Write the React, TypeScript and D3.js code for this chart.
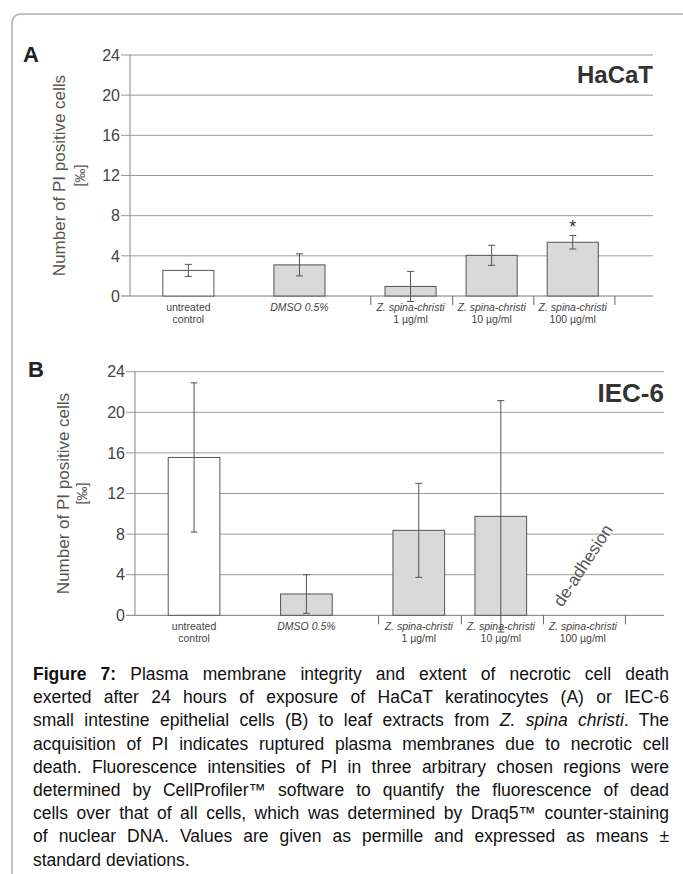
import React, { useLayoutEffect, useRef } from "react";
import * as d3 from "d3";

// ---------- data ----------
const categories = [
  "untreated control",
  "DMSO 0.5%",
  "Z. spina-christi 1 µg/ml",
  "Z. spina-christi 10 µg/ml",
  "Z. spina-christi 100 µg/ml",
];
const labelTop = ["untreated", "DMSO 0.5%", "Z. spina-christi", "Z. spina-christi", "Z. spina-christi"];
const labelBottom = ["control", "", "1 µg/ml", "10 µg/ml", "100 µg/ml"];
const labelItalic = [false, true, true, true, true];
const yTicks = [0, 4, 8, 12, 16, 20, 24];

const hacatMean = [2.55, 3.1, 0.95, 4.05, 5.35];
const hacatSD = [0.6, 1.1, 1.5, 1.0, 0.67];
const hacatMarks = ["", "", "", "", "*"];
const hacatNotes = ["", "", "", "", ""];

const iecMean: (number | null)[] = [15.55, 2.1, 8.37, 9.75, null];
const iecSD: (number | null)[] = [7.35, 1.9, 4.63, 11.4, null];
const iecMarks = ["", "", "", "", ""];
const iecNotes = ["", "", "", "", "de-adhesion"];

type Seg = { t: string; b?: boolean; i?: boolean };
const captionLines: Seg[][] = [
  [{ t: "Figure 7:", b: true }, { t: " Plasma membrane integrity and extent of necrotic cell death" }],
  [{ t: "exerted after 24 hours of exposure of HaCaT keratinocytes (A) or IEC-6" }],
  [{ t: "small intestine epithelial cells (B) to leaf extracts from " }, { t: "Z. spina christi", i: true }, { t: ". The" }],
  [{ t: "acquisition of PI indicates ruptured plasma membranes due to necrotic cell" }],
  [{ t: "death. Fluorescence intensities of PI in three arbitrary chosen regions were" }],
  [{ t: "determined by CellProfiler™ software to quantify the fluorescence of dead" }],
  [{ t: "cells over that of all cells, which was determined by Draq5™ counter-staining" }],
  [{ t: "of nuclear DNA. Values are given as permille and expressed as means ±" }],
  [{ t: "standard deviations." }],
];

// ---------- layout ----------
const W = 683;
const H = 874;
const FONT = "'Liberation Sans', Arial, Helvetica, sans-serif";
const SLOT_DOMAIN = [0, 6.45];
const SLOT_CENTERS = [0.72, 2.09, 3.46, 4.46, 5.46];
const SEPARATORS = [2.97, 3.98, 4.98, 5.98];
const BAR_W = 0.63;

type PanelProps = {
  letter: string;
  letterX: number;
  letterY: number;
  cell: string;
  cellY: number;
  cellSize: number;
  x0: number;
  x1: number;
  y0: number;
  y1: number;
  titleX: number;
  unitX: number;
  means: (number | null)[];
  sds: (number | null)[];
  marks: string[];
  notes: string[];
};

function Panel(p: PanelProps) {
  const x = d3.scaleLinear().domain(SLOT_DOMAIN).range([p.x0, p.x1]);
  const y = d3.scaleLinear().domain([0, 24]).range([p.y0, p.y1]);
  const bw = x(BAR_W) - x(0);
  const midY = (p.y0 + p.y1) / 2;
  return (
    <g fontFamily={FONT}>
      <text x={p.letterX} y={p.letterY} fontSize={22} fontWeight="bold" fill="#222">
        {p.letter}
      </text>
      {yTicks.map((t) => (
        <g key={t}>
          <line x1={p.x0 - 9} x2={p.x1} y1={y(t)} y2={y(t)} stroke={t === 0 ? "#777" : "#9a9a9a"} strokeWidth={1} />
          <text x={p.x0 - 10} y={y(t)} dy="0.36em" textAnchor="end" fontSize={16} fill="#444">
            {t}
          </text>
        </g>
      ))}
      <line x1={p.x0} x2={p.x0} y1={p.y0} y2={y(24)} stroke="#888" strokeWidth={1} />
      {SEPARATORS.map((s, i) => (
        <line key={i} x1={x(s)} x2={x(s)} y1={p.y0} y2={p.y0 + 9} stroke="#666" strokeWidth={1} />
      ))}
      <text
        transform={`translate(${p.titleX},${midY}) rotate(-90)`}
        textAnchor="middle"
        fontSize={17}
        fill="#555"
      >
        Number of PI positive cells
      </text>
      <text transform={`translate(${p.unitX},${midY}) rotate(-90)`} textAnchor="middle" fontSize={14} fill="#555">
        [‰]
      </text>
      <text x={p.x1} y={p.cellY} textAnchor="end" fontSize={p.cellSize} fontWeight="bold" fill="#333">
        {p.cell}
      </text>
      {categories.map((c, i) => {
        const m = p.means[i];
        const cx = x(SLOT_CENTERS[i]);
        const sd = p.sds[i];
        return (
          <g key={c}>
            {m !== null && (
              <rect
                x={cx - bw / 2}
                y={y(m)}
                width={bw}
                height={y(0) - y(m)}
                fill={i === 0 ? "#fff" : "#d9d9d9"}
                stroke="#555"
                strokeWidth={1}
              />
            )}
            {m !== null && sd !== null && (
              <g stroke="#555" strokeWidth={1}>
                <line x1={cx} x2={cx} y1={y(m + sd)} y2={y(m - sd)} />
                <line x1={cx - 3.5} x2={cx + 3.5} y1={y(m + sd)} y2={y(m + sd)} />
                <line x1={cx - 3.5} x2={cx + 3.5} y1={y(m - sd)} y2={y(m - sd)} />
              </g>
            )}
            {m !== null && sd !== null && p.marks[i] && (
              <text x={cx} y={y(m + sd) - 3} textAnchor="middle" fontSize={18} fill="#333">
                {p.marks[i]}
              </text>
            )}
            {p.notes[i] && (
              <text
                transform={`translate(${cx},${p.y0 - 50}) rotate(-57)`}
                textAnchor="middle"
                dy="0.35em"
                fontSize={17}
                fill="#555"
              >
                {p.notes[i]}
              </text>
            )}
            <text
              x={cx}
              y={p.y0 + 15}
              textAnchor="middle"
              fontSize={10.5}
              fontStyle={labelItalic[i] ? "italic" : "normal"}
              fill="#444"
            >
              {labelTop[i]}
            </text>
            {labelBottom[i] && (
              <text x={cx} y={p.y0 + 26.5} textAnchor="middle" fontSize={10.5} fill="#444">
                {labelBottom[i]}
              </text>
            )}
          </g>
        );
      })}
    </g>
  );
}

const CAP_X0 = 33;
const CAP_X1 = 669;
const CAP_Y0 = 680;
const CAP_DY = 23.2;

function Caption() {
  const refs = useRef<(SVGTextElement | null)[]>([]);
  useLayoutEffect(() => {
    refs.current.forEach((el, i) => {
      if (!el || i === captionLines.length - 1) return;
      el.setAttribute("word-spacing", "0");
      const w = el.getComputedTextLength();
      const spaces = (el.textContent || "").split(" ").length - 1;
      if (spaces > 0) el.setAttribute("word-spacing", String((CAP_X1 - CAP_X0 - w) / spaces));
    });
  }, []);
  return (
    <g fontFamily={FONT} fontSize={17.5} fill="#111">
      {captionLines.map((line, i) => (
        <text
          key={i}
          ref={(el) => {
            refs.current[i] = el;
          }}
          x={CAP_X0}
          y={CAP_Y0 + i * CAP_DY}
          style={{ whiteSpace: "pre" }}
        >
          {line.map((s, j) => (
            <tspan key={j} fontWeight={s.b ? "bold" : "normal"} fontStyle={s.i ? "italic" : "normal"}>
              {s.t}
            </tspan>
          ))}
        </text>
      ))}
    </g>
  );
}

export default function App() {
  return (
    <div style={{ position: "absolute", left: 0, top: 0 }}>
      <svg width={W} height={H} style={{ display: "block", background: "#fff" }}>
        <path d="M 12 874 L 12 24 Q 12 14 22 14 L 683 14" fill="none" stroke="#b0b0b0" strokeWidth={1.5} />
        <Panel
          letter="A"
          letterX={23}
          letterY={62}
          cell="HaCaT"
          cellY={83}
          cellSize={24}
          x0={130}
          x1={653}
          y0={296}
          y1={55}
          titleX={64.5}
          unitX={84.5}
          means={hacatMean}
          sds={hacatSD}
          marks={hacatMarks}
          notes={hacatNotes}
        />
        <Panel
          letter="B"
          letterX={28}
          letterY={377}
          cell="IEC-6"
          cellY={401.5}
          cellSize={26}
          x0={135}
          x1={664}
          y0={615.3}
          y1={371.7}
          titleX={68.5}
          unitX={87}
          means={iecMean}
          sds={iecSD}
          marks={iecMarks}
          notes={iecNotes}
        />
        <Caption />
      </svg>
    </div>
  );
}
